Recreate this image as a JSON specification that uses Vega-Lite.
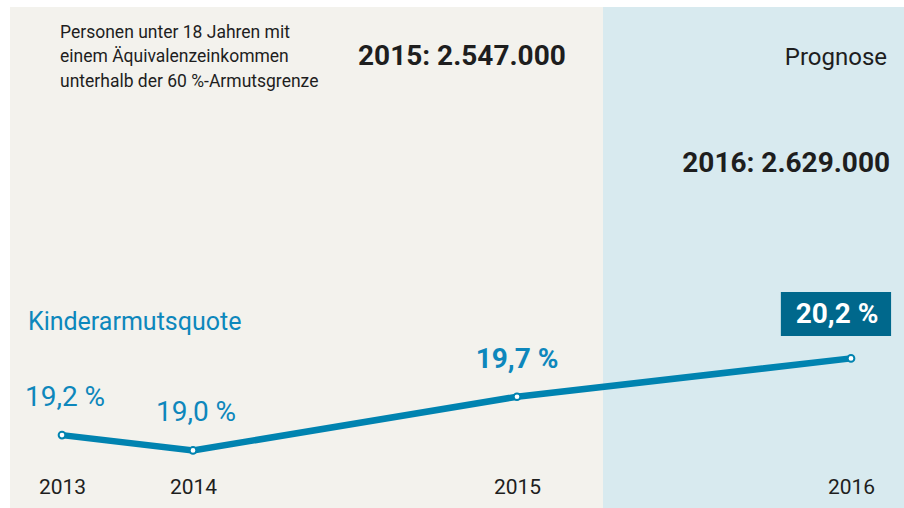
{
  "$schema": "https://vega.github.io/schema/vega-lite/v6.json",
  "autosize": {"type": "none"},
  "padding": {"left": 10, "top": 7, "right": 0, "bottom": 0},
  "width": 894,
  "height": 501,
  "background": "#ffffff",
  "config": {
    "view": {"fill": "#f3f2ed", "stroke": null},
    "font": "Roboto",
    "axisX": {
      "domain": false, "ticks": false, "tickSize": 0, "grid": false,
      "labelFont": "Roboto", "labelFontSize": 21, "labelColor": "#1e1e1e",
      "labelBaseline": "alphabetic", "labelPadding": -15, "labelFlush": false, "labelOverlap": false,
      "labelBound": false
    }
  },
  "datasets": {
    "quote": [
      {"year": 2013, "value": 19.2, "label": "19,2 %", "kind": "regular"},
      {"year": 2014, "value": 19.0, "label": "19,0 %", "kind": "regular"},
      {"year": 2015, "value": 19.7, "label": "19,7 %", "kind": "bold"},
      {"year": 2016, "value": 20.2, "label": "20,2 %", "kind": "box"}
    ],
    "one": [{"n": 1}]
  },
  "data": {"name": "quote"},
  "layer": [
    {
      "data": {"name": "one"},
      "mark": {"type": "rect", "color": "#d8eaef"},
      "encoding": {
        "x": {"datum": 2015.2575, "type": "quantitative", "title": null, "axis": {"values": [2013, 2014, 2015, 2016], "format": "d", "title": null, "zindex": 2}, "scale": {"domain": [2013, 2014, 2015, 2016], "range": [52, 183, 507, 841]}},
        "x2": {"datum": 2016.3},
        "y": {"datum": 24.78, "type": "quantitative", "axis": null, "scale": {"domain": [18.25, 24.78], "zero": false, "nice": false}},
        "y2": {"datum": 18.25}
      }
    },
    {
      "mark": {"type": "line", "color": "#0083b0", "strokeWidth": 6.5},
      "encoding": {
        "x": {"field": "year", "type": "quantitative", "title": null, "axis": {"values": [2013, 2014, 2015, 2016], "format": "d", "title": null, "zindex": 2}, "scale": {"domain": [2013, 2014, 2015, 2016], "range": [52, 183, 507, 841]}},
        "y": {"field": "value", "type": "quantitative", "axis": null, "scale": {"domain": [18.25, 24.78], "zero": false, "nice": false}}
      }
    },
    {
      "mark": {"type": "point", "filled": true, "fill": "#ffffff", "stroke": "#0083b0", "strokeWidth": 2, "size": 45, "opacity": 1},
      "encoding": {
        "x": {"field": "year", "type": "quantitative", "title": null, "axis": {"values": [2013, 2014, 2015, 2016], "format": "d", "title": null, "zindex": 2}, "scale": {"domain": [2013, 2014, 2015, 2016], "range": [52, 183, 507, 841]}},
        "y": {"field": "value", "type": "quantitative", "axis": null, "scale": {"domain": [18.25, 24.78], "zero": false, "nice": false}}
      }
    },
    {
      "transform": [{"filter": "datum.kind === 'regular'"}],
      "mark": {"type": "text", "font": "Roboto", "fontSize": 28, "color": "#0d87bc", "dx": 3, "dy": -29, "baseline": "alphabetic", "align": "center"},
      "encoding": {
        "x": {"field": "year", "type": "quantitative", "title": null, "axis": {"values": [2013, 2014, 2015, 2016], "format": "d", "title": null, "zindex": 2}, "scale": {"domain": [2013, 2014, 2015, 2016], "range": [52, 183, 507, 841]}},
        "y": {"field": "value", "type": "quantitative", "axis": null, "scale": {"domain": [18.25, 24.78], "zero": false, "nice": false}},
        "text": {"field": "label"}
      }
    },
    {
      "transform": [{"filter": "datum.kind === 'bold'"}],
      "mark": {"type": "text", "font": "Roboto", "fontSize": 28, "fontWeight": "bold", "color": "#0d87bc", "dy": -29, "baseline": "alphabetic", "align": "center"},
      "encoding": {
        "x": {"field": "year", "type": "quantitative", "title": null, "axis": {"values": [2013, 2014, 2015, 2016], "format": "d", "title": null, "zindex": 2}, "scale": {"domain": [2013, 2014, 2015, 2016], "range": [52, 183, 507, 841]}},
        "y": {"field": "value", "type": "quantitative", "axis": null, "scale": {"domain": [18.25, 24.78], "zero": false, "nice": false}},
        "text": {"field": "label"}
      }
    },
    {
      "data": {"name": "one"},
      "mark": {"type": "rect", "color": "#00688c"},
      "encoding": {
        "x": {"datum": 2015.79, "type": "quantitative", "title": null, "axis": {"values": [2013, 2014, 2015, 2016], "format": "d", "title": null, "zindex": 2}, "scale": {"domain": [2013, 2014, 2015, 2016], "range": [52, 183, 507, 841]}},
        "x2": {"datum": 2016.12},
        "y": {"datum": 21.065, "type": "quantitative", "axis": null, "scale": {"domain": [18.25, 24.78], "zero": false, "nice": false}},
        "y2": {"datum": 20.492}
      }
    },
    {
      "transform": [{"filter": "datum.kind === 'box'"}],
      "mark": {"type": "text", "font": "Roboto", "fontSize": 28, "fontWeight": "bold", "color": "#ffffff", "dx": -14, "dy": -35, "baseline": "alphabetic", "align": "center"},
      "encoding": {
        "x": {"field": "year", "type": "quantitative", "title": null, "axis": {"values": [2013, 2014, 2015, 2016], "format": "d", "title": null, "zindex": 2}, "scale": {"domain": [2013, 2014, 2015, 2016], "range": [52, 183, 507, 841]}},
        "y": {"field": "value", "type": "quantitative", "axis": null, "scale": {"domain": [18.25, 24.78], "zero": false, "nice": false}},
        "text": {"field": "label"}
      }
    },
    {
      "data": {"name": "one"},
      "mark": {"type": "text", "font": "Roboto", "text": "Personen unter 18 Jahren mit\neinem Äquivalenzeinkommen\nunterhalb der 60 %-Armutsgrenze", "lineBreak": "\n", "fontSize": 17.5, "lineHeight": 24.5, "color": "#1e1e1e", "align": "left", "baseline": "alphabetic"},
      "encoding": {
        "x": {"datum": 2012.985, "type": "quantitative", "title": null, "axis": {"values": [2013, 2014, 2015, 2016], "format": "d", "title": null, "zindex": 2}, "scale": {"domain": [2013, 2014, 2015, 2016], "range": [52, 183, 507, 841]}},
        "y": {"datum": 24.376, "type": "quantitative", "axis": null, "scale": {"domain": [18.25, 24.78], "zero": false, "nice": false}}
      }
    },
    {
      "data": {"name": "one"},
      "mark": {"type": "text", "font": "Roboto", "text": "2015: 2.547.000", "fontSize": 28, "fontWeight": "bold", "color": "#1e1e1e", "align": "center", "baseline": "alphabetic"},
      "encoding": {
        "x": {"datum": 2014.83, "type": "quantitative", "title": null, "axis": {"values": [2013, 2014, 2015, 2016], "format": "d", "title": null, "zindex": 2}, "scale": {"domain": [2013, 2014, 2015, 2016], "range": [52, 183, 507, 841]}},
        "y": {"datum": 24.024, "type": "quantitative", "axis": null, "scale": {"domain": [18.25, 24.78], "zero": false, "nice": false}}
      }
    },
    {
      "data": {"name": "one"},
      "mark": {"type": "text", "font": "Roboto", "text": "Prognose", "fontSize": 24, "color": "#1e1e1e", "align": "right", "baseline": "alphabetic"},
      "encoding": {
        "x": {"datum": 2016.108, "type": "quantitative", "title": null, "axis": {"values": [2013, 2014, 2015, 2016], "format": "d", "title": null, "zindex": 2}, "scale": {"domain": [2013, 2014, 2015, 2016], "range": [52, 183, 507, 841]}},
        "y": {"datum": 24.024, "type": "quantitative", "axis": null, "scale": {"domain": [18.25, 24.78], "zero": false, "nice": false}}
      }
    },
    {
      "data": {"name": "one"},
      "mark": {"type": "text", "font": "Roboto", "text": "2016: 2.629.000", "fontSize": 28, "fontWeight": "bold", "color": "#1e1e1e", "align": "right", "baseline": "alphabetic"},
      "encoding": {
        "x": {"datum": 2016.117, "type": "quantitative", "title": null, "axis": {"values": [2013, 2014, 2015, 2016], "format": "d", "title": null, "zindex": 2}, "scale": {"domain": [2013, 2014, 2015, 2016], "range": [52, 183, 507, 841]}},
        "y": {"datum": 22.629, "type": "quantitative", "axis": null, "scale": {"domain": [18.25, 24.78], "zero": false, "nice": false}}
      }
    },
    {
      "data": {"name": "one"},
      "mark": {"type": "text", "font": "Roboto", "text": "Kinderarmutsquote", "fontSize": 25, "color": "#0d87bc", "align": "left", "baseline": "alphabetic"},
      "encoding": {
        "x": {"datum": 2012.74, "type": "quantitative", "title": null, "axis": {"values": [2013, 2014, 2015, 2016], "format": "d", "title": null, "zindex": 2}, "scale": {"domain": [2013, 2014, 2015, 2016], "range": [52, 183, 507, 841]}},
        "y": {"datum": 20.57, "type": "quantitative", "axis": null, "scale": {"domain": [18.25, 24.78], "zero": false, "nice": false}}
      }
    }
  ]
}
